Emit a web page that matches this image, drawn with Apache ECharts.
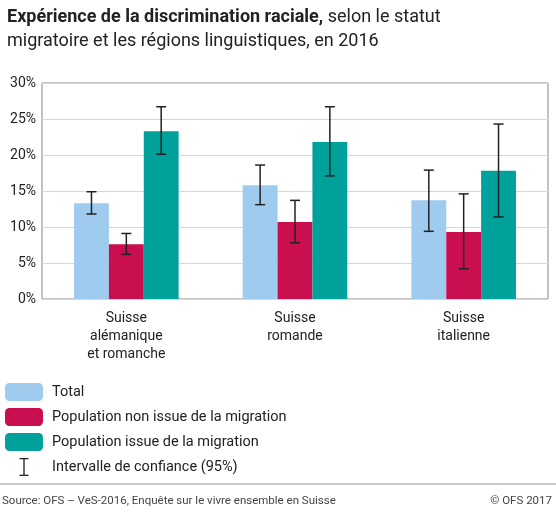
<!DOCTYPE html>
<html>
<head>
<meta charset="utf-8">
<script src="https://cdn.jsdelivr.net/npm/echarts@6/dist/echarts.min.js"></script>
<style>html,body{margin:0;padding:0;background:#fff}#c{width:556px;height:517px}</style>
</head>
<body>
<div id="c"></div>
<script>
// données
var categories = ['Suisse\nalémanique\net romanche', 'Suisse\nromande', 'Suisse\nitalienne'];
var seriesNames = ['Total', 'Population non issue de la migration', 'Population issue de la migration'];
var totalVals = [13.3, 15.8, 13.7];
var nonMigVals = [7.6, 10.7, 9.3];
var migVals = [23.3, 21.8, 17.8];
var totalLow = [11.8, 13.1, 9.4], totalHigh = [14.9, 18.6, 17.9];
var nonMigLow = [6.2, 7.8, 4.2], nonMigHigh = [9.1, 13.7, 14.6];
var migLow = [20.1, 17.1, 11.4], migHigh = [26.7, 26.7, 24.3];
var yTicks = [0, 5, 10, 15, 20, 25, 30];

var colors = ['#9fcbee', '#c90f50', '#00a19a'];
var catGap = 0.38;

var errData = [];
[[totalLow, totalHigh], [nonMigLow, nonMigHigh], [migLow, migHigh]].forEach(function (p, s) {
    for (var i = 0; i < categories.length; i++) errData.push([i, p[0][i], p[1][i], s]);
});

var chart = echarts.init(document.getElementById('c'));
var option = {
    animation: false,
    textStyle: {fontFamily: 'Roboto'},
    title: {
        text: '{b|Expérience de la discrimination raciale,} selon le statut\nmigratoire et les régions linguistiques, en 2016',
        left: 2, top: 0,
        textStyle: {
            fontSize: 18, fontWeight: 'normal', color: '#222', lineHeight: 24, fontFamily: 'Roboto',
            rich: {b: {fontSize: 18, fontWeight: 'bold', color: '#222', fontFamily: 'Roboto'}}
        }
    },
    grid: {left: 42, right: 8, top: 83, height: 216, show: true, borderColor: '#888', borderWidth: 1},
    xAxis: {
        type: 'category', data: categories,
        axisLine: {show: false}, axisTick: {show: false},
        axisLabel: {color: '#222', fontSize: 14, lineHeight: 18, margin: 10}
    },
    yAxis: {
        type: 'value', min: 0, max: 30, interval: 5,
        axisLabel: {color: '#222', fontSize: 14, formatter: '{value}%', margin: 6},
        splitLine: {lineStyle: {color: '#d8d8d8'}},
        axisLine: {show: false}, axisTick: {show: false}
    },
    legend: {
        orient: 'vertical', left: 0, top: 378, itemWidth: 38, itemHeight: 18, itemGap: 7,
        textStyle: {fontSize: 14.5, color: '#222', padding: [0, 0, 0, 4]},
        data: seriesNames.concat([{name: 'Intervalle de confiance (95%)',
            icon: 'path://M0,0H10V1.5H5.75V18.5H10V20H0V18.5H4.25V1.5H0Z', itemStyle: {color: '#222'}}])
    },
    series: [
        {name: seriesNames[0], type: 'bar', data: totalVals, barGap: '0%', barCategoryGap: '38%', itemStyle: {color: colors[0]}},
        {name: seriesNames[1], type: 'bar', data: nonMigVals, barGap: '0%', barCategoryGap: '38%', itemStyle: {color: colors[1]}},
        {name: seriesNames[2], type: 'bar', data: migVals, barGap: '0%', barCategoryGap: '38%', itemStyle: {color: colors[2]}},
        {
            name: 'Intervalle de confiance (95%)', type: 'custom', data: errData, z: 10,
            itemStyle: {color: '#222'},
            renderItem: function (params, api) {
                var ci = api.value(0), s = api.value(3);
                var bw = api.size([1, 0])[0] * (1 - catGap) / 3;
                var lo = api.coord([ci, api.value(1)]), hi = api.coord([ci, api.value(2)]);
                var x = lo[0] + (s - 1) * bw, h = 5;
                var st = {stroke: '#222', lineWidth: 1.5};
                return {type: 'group', children: [
                    {type: 'line', shape: {x1: x, y1: lo[1], x2: x, y2: hi[1]}, style: st},
                    {type: 'line', shape: {x1: x - h, y1: lo[1], x2: x + h, y2: lo[1]}, style: st},
                    {type: 'line', shape: {x1: x - h, y1: hi[1], x2: x + h, y2: hi[1]}, style: st}
                ]};
            }
        }
    ],
    graphic: [
        {type: 'line', shape: {x1: 0, y1: 484, x2: 556, y2: 484}, style: {stroke: '#999', lineWidth: 1}},
        {type: 'text', left: 2, top: 495, style: {text: 'Source: OFS – VeS-2016, Enquête sur le vivre ensemble en Suisse', fontSize: 11.5, fill: '#444', fontFamily: 'Roboto'}},
        {type: 'text', right: 4, top: 495, style: {text: '© OFS 2017', fontSize: 11.5, fill: '#444', fontFamily: 'Roboto'}}
    ]
};
chart.setOption(option);
</script>
</body>
</html>
